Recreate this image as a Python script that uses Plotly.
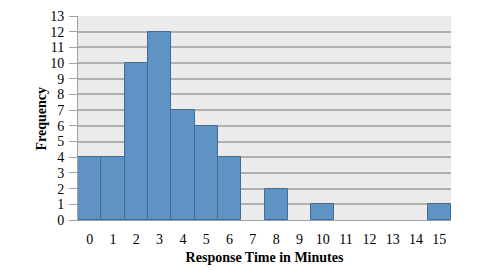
import plotly.graph_objects as go

categories = [str(i) for i in range(16)]
frequency = [4, 4, 10, 12, 7, 6, 4, 0, 2, 0, 1, 0, 0, 0, 0, 1]
y_ticks = list(range(0, 14))

line_widths = [1 if v > 0 else 0 for v in frequency]

fig = go.Figure(go.Bar(
    x=categories, y=frequency,
    marker=dict(color="#5f93c4", line=dict(color="#3d6c98", width=line_widths)),
))
fig.update_layout(
    width=500, height=273,
    margin=dict(l=78, r=49, t=16, b=53),
    paper_bgcolor="white", plot_bgcolor="#ebebeb",
    bargap=0, showlegend=False,
    font=dict(family="Liberation Serif", size=14, color="black"),
)
fig.update_xaxes(
    type="category", showgrid=False, ticks="", tickfont=dict(size=14),
    ticklabelstandoff=6, automargin=False,
    title=dict(text="<b>Response Time in Minutes</b>", font=dict(size=14), standoff=6),
    showline=True, linecolor="#a0a0a0", linewidth=1,
)
fig.update_yaxes(
    range=[0, 13], tickvals=y_ticks, showgrid=True, gridcolor="#b0b0b0", gridwidth=2,
    ticks="outside", ticklen=8, tickcolor="#a0a0a0", tickfont=dict(size=14),
    ticklabelstandoff=2, automargin=False,
    showline=True, linecolor="#a0a0a0", linewidth=1, zeroline=False,
)
fig.add_annotation(
    text="<b>Frequency</b>", xref="paper", yref="paper", x=-0.098, y=0.5,
    xanchor="center", yanchor="middle", textangle=-90, showarrow=False,
    font=dict(size=14),
)
fig.write_html("out.html")
